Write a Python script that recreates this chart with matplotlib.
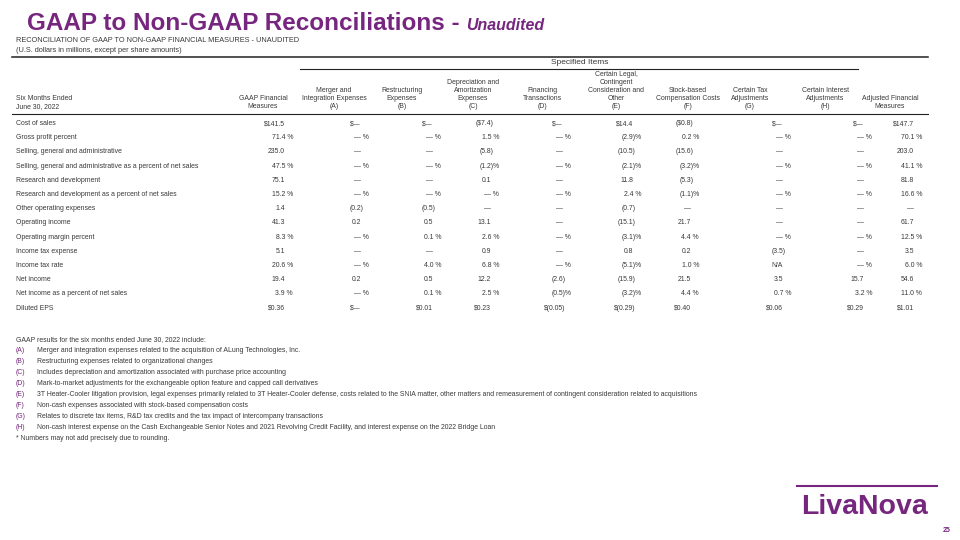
import matplotlib
matplotlib.use('Agg')
import matplotlib.pyplot as plt
import matplotlib.transforms as mtrans

plt.rcParams['font.family'] = ['Liberation Sans', 'DejaVu Sans']

PURPLE = '#76267f'
GRAY = '#3a3a3a'

# table data
row_labels = ['Cost of sales',
              'Gross profit percent',
              'Selling, general and administrative',
              'Selling, general and administrative as a percent of net sales',
              'Research and development',
              'Research and development as a percent of net sales',
              'Other operating expenses',
              'Operating income',
              'Operating margin percent',
              'Income tax expense',
              'Income tax rate',
              'Net income',
              'Net income as a percent of net sales',
              'Diluted EPS']

gaap = ['$141.5', '71.4 %', '235.0', '47.5 %', '75.1', '15.2 %', '1.4', '41.3',
        '8.3 %', '5.1', '20.6 %', '19.4', '3.9 %', '$0.36']
col_a = ['$—', '— %', '—', '— %', '—', '— %', '(0.2)', '0.2', '— %', '—',
         '— %', '0.2', '— %', '$—']
col_b = ['$—', '— %', '—', '— %', '—', '— %', '(0.5)', '0.5', '0.1 %', '—',
         '4.0 %', '0.5', '0.1 %', '$0.01']
col_c = ['($7.4)', '1.5 %', '(5.8)', '(1.2)%', '0.1', '— %', '—', '13.1',
         '2.6 %', '0.9', '6.8 %', '12.2', '2.5 %', '$0.23']
col_d = ['$—', '— %', '—', '— %', '—', '— %', '—', '—', '— %', '—', '— %',
         '(2.6)', '(0.5)%', '$(0.05)']
col_e = ['$14.4', '(2.9)%', '(10.5)', '(2.1)%', '11.8', '2.4 %', '(0.7)',
         '(15.1)', '(3.1)%', '0.8', '(5.1)%', '(15.9)', '(3.2)%', '$(0.29)']
col_f = ['($0.8)', '0.2 %', '(15.6)', '(3.2)%', '(5.3)', '(1.1)%', '—', '21.7',
         '4.4 %', '0.2', '1.0 %', '21.5', '4.4 %', '$0.40']
col_g = ['$—', '— %', '—', '— %', '—', '— %', '—', '—', '— %', '(3.5)', 'N/A',
         '3.5', '0.7 %', '$0.06']
col_h = ['$—', '— %', '—', '— %', '—', '— %', '—', '—', '— %', '—', '— %',
         '15.7', '3.2 %', '$0.29']
adjusted = ['$147.7', '70.1 %', '203.0', '41.1 %', '81.8', '16.6 %', '—',
            '61.7', '12.5 %', '3.5', '6.0 %', '54.6', '11.0 %', '$1.01']

headers = [['GAAP Financial', 'Measures'],
           ['Merger and', 'Integration Expenses', '(A)'],
           ['Restructuring', 'Expenses', '(B)'],
           ['Depreciation and', 'Amortization', 'Expenses', '(C)'],
           ['Financing', 'Transactions', '(D)'],
           ['Certain Legal,', 'Contingent', 'Consideration and', 'Other', '(E)'],
           ['Stock-based', 'Compensation Costs', '(F)'],
           ['Certain Tax', 'Adjustments', '(G)'],
           ['Certain Interest', 'Adjustments', '(H)'],
           ['Adjusted Financial', 'Measures']]

columns = [gaap, col_a, col_b, col_c, col_d, col_e, col_f, col_g, col_h, adjusted]

footnote_keys = ['(A)', '(B)', '(C)', '(D)', '(E)', '(F)', '(G)', '(H)']
footnotes = ['Merger and integration expenses related to the acquisition of ALung Technologies, Inc.',
             'Restructuring expenses related to organizational changes',
             'Includes depreciation and amortization associated with purchase price accounting',
             'Mark-to-market adjustments for the exchangeable option feature and capped call derivatives',
             '3T Heater-Cooler litigation provision, legal expenses primarily related to 3T Heater-Cooler defense, costs related to the SNIA matter, other matters and remeasurement of contingent consideration related to acquisitions',
             'Non-cash expenses associated with stock-based compensation costs',
             'Relates to discrete tax items, R&D tax credits and the tax impact of intercompany transactions',
             'Non-cash interest expense on the Cash Exchangeable Senior Notes and 2021 Revolving Credit Facility, and interest expense on the 2022 Bridge Loan']

# layout (pixels)
head_x = [263, 334, 402, 473, 542, 616, 688, 750, 825, 890]
val_r = [285, 361, 433, 491, 563, 633, 691, 783, 864, 914]
row_y0 = 123.5
row_dy = 14.2
fs = 4.95

fig = plt.figure(figsize=(9.6, 5.4), dpi=100)
ax = fig.add_axes([0, 0, 1, 1])
ax.set_xlim(0, 960)
ax.set_ylim(540, 0)
ax.axis('off')

# title block
t = ax.text(27, 30, 'GAAP to Non-GAAP Reconciliations - ', fontsize=17.5,
            fontweight='bold', color=PURPLE, va='baseline', ha='left')
fig.canvas.draw()
x_end = t.get_window_extent().x1
ax.text(x_end, 30, 'Unaudited', fontsize=11.5, fontweight='bold', style='italic',
        color=PURPLE, va='baseline', ha='left',
        transform=mtrans.blended_transform_factory(mtrans.IdentityTransform(), ax.transData))
ax.text(16, 40, 'RECONCILIATION OF GAAP TO NON-GAAP FINANCIAL MEASURES - UNAUDITED',
        fontsize=5.3, color=GRAY, va='center')
ax.text(16, 50, '(U.S. dollars in millions, except per share amounts)',
        fontsize=5.3, color=GRAY, va='center')

# rules
ax.plot([12, 928], [57, 57], color='#222222', lw=1.1)
ax.plot([300, 858], [69, 69], color='#222222', lw=0.8)
ax.plot([12, 928], [113.5, 113.5], color='#222222', lw=0.8)
ax.text(580, 63, 'Specified Items', fontsize=6, color=GRAY, ha='center', va='center')

# column headers
for lines, hx in zip(headers, head_x):
    n = len(lines)
    for k, line in enumerate(lines):
        ax.text(hx, 107 - 8 * (n - 1 - k), line, fontsize=fs, color=GRAY,
                ha='center', va='center')
ax.text(16, 99, 'Six Months Ended', fontsize=fs, color=GRAY, va='center')
ax.text(16, 107, 'June 30, 2022', fontsize=fs, color=GRAY, va='center')

# hanging suffix widths so digits line up on the column edge
em = fs * 100 / 72
hang = {')%': 1.22 * em, ' %': 1.17 * em, ')': 0.333 * em}


def cell_shift(s):
    for suf in (')%', ' %', ')'):
        if s.endswith(suf):
            return hang[suf]
    return 0


# table body
for i, lab in enumerate(row_labels):
    y = row_y0 + i * row_dy
    ax.text(16, y, lab, fontsize=fs, color=GRAY, va='center')
    for col, r in zip(columns, val_r):
        s = col[i]
        ax.text(r + cell_shift(s), y, s, fontsize=fs, color=GRAY,
                ha='right', va='center')

# footnotes
fy0 = 340
fdy = 10.9
ax.text(16, fy0, 'GAAP results for the six months ended June 30, 2022 include:',
        fontsize=fs, color=GRAY, va='center')
for k, (key, note) in enumerate(zip(footnote_keys, footnotes)):
    y = fy0 + (k + 1) * fdy
    ax.text(16, y, key, fontsize=fs, color=PURPLE, va='center')
    ax.text(37, y, note, fontsize=fs, color=GRAY, va='center')
ax.text(16, fy0 + 9 * fdy, '* Numbers may not add precisely due to rounding.',
        fontsize=fs, color=GRAY, va='center')

# logo and page number
ax.plot([797, 937], [486, 486], color=PURPLE, lw=1.5)
ax.text(801, 514, 'LivaNova', fontsize=20.5, fontweight='bold', color=PURPLE,
        ha='left', va='baseline')
ax.text(951, 531, '25', fontsize=5, fontweight='bold', color=PURPLE,
        ha='right', va='center')

fig.savefig('out.png', dpi=100)
